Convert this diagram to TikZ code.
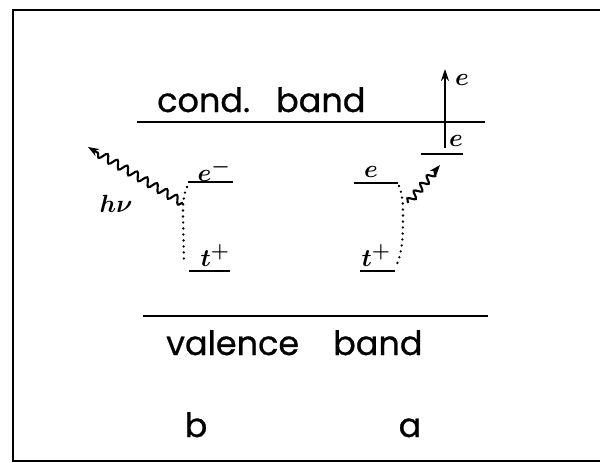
\documentclass[tikz,border=0pt]{standalone}
\usepackage{fontspec}
\setmainfont{Poppins}[FakeBold=0.7]
\usetikzlibrary{decorations.pathmorphing,arrows.meta}
\begin{document}
\begin{tikzpicture}[x=1pt,y=-1pt,
  band/.style={line width=2.6pt},
  level/.style={line width=2.5pt},
  bigtext/.style={font=\fontsize{33.5}{40}\selectfont, inner sep=0pt, anchor=base west},
  small/.style={font=\fontsize{28}{30}\selectfont\boldmath, inner sep=0pt},
  dots/.style={line width=2.6pt, line cap=round, dash pattern=on 0pt off 6pt},
  wave/.style={line width=2.1pt, decorate, decoration={snake, amplitude=4pt, segment length=11.5pt, post length=8pt}, -{Stealth[length=11pt,width=8pt]}}]
\useasboundingbox (0,0) rectangle (600,463);
\draw[line width=2.6pt] (620,10) -- (13,10) -- (13,461) -- (620,461);
% bands
\coordinate (cbL) at (137,122); \coordinate (cbR) at (485,122);
\draw[band] (cbL) -- (cbR);
\node[bigtext] (cond) at (157,112) {cond.\hspace{26pt}band};
\coordinate (vbL) at (143,316); \coordinate (vbR) at (488,316);
\draw[band] (vbL) -- (vbR);
\node[bigtext] (val) at (166,355) {valence\hspace{34pt}band};
\node[bigtext, anchor=base] (lb) at (196,437) {b};
\node[bigtext, anchor=base] (la) at (410,437) {a};
% case b
\coordinate (beL) at (188,182); \coordinate (beR) at (233,182);
\draw[level] (beL) -- (beR);
\node[small] (bel) at (214,170) {$e^{-}$};
\coordinate (btL) at (189,271); \coordinate (btR) at (230,271);
\draw[level] (btL) -- (btR);
\node[small] (btl) at (215,256) {$t^{+}$};
\draw[dots] (187,187) .. controls (183,196) and (183,205) .. (183,215) -- (184,262);
\coordinate (bw1) at (183,203); \coordinate (bw2) at (88,147);
\draw[wave] (bw1) -- (bw2);
\node[small] (hnu) at (116,204) {$h\nu$};
% case a
\coordinate (aeL) at (354,183); \coordinate (aeR) at (398,183);
\draw[level] (aeL) -- (aeR);
\node[small] (ael) at (371,172) {$e$};
\coordinate (atL) at (360,271); \coordinate (atR) at (395,271);
\draw[level] (atL) -- (atR);
\node[small] (atl) at (376,256) {$t^{+}$};
\draw[dots] (399,186) .. controls (403,196) and (403,205) .. (403,215) .. controls (403,240) and (402,252) .. (397,264);
\coordinate (aw1) at (408,203); \coordinate (aw2) at (440,165);
\draw[wave, decoration={segment length=10pt, amplitude=3.5pt, post length=7pt}] (aw1) -- (aw2);
\coordinate (tL) at (421,154); \coordinate (tR) at (463,154);
\draw[level] (tL) -- (tR);
\coordinate (v0) at (445,148); \coordinate (v1) at (445,69);
\draw[line width=2.4pt, -{Stealth[length=12pt,width=8pt]}] (v0) -- (v1);
\node[small] (e1) at (462,80) {$e$};
\node[small] (e2) at (456,141) {$e$};
\end{tikzpicture}
\end{document}
